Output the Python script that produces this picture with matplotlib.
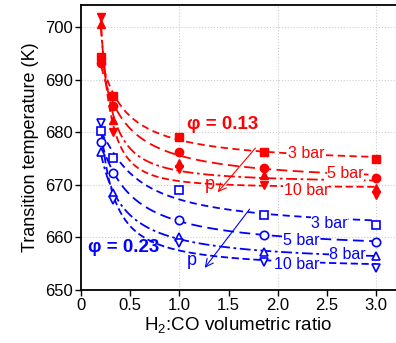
import numpy as np
import matplotlib
matplotlib.use("Agg")
import matplotlib.pyplot as plt

plt.rcParams['font.family'] = ['Liberation Sans', 'DejaVu Sans']
plt.rcParams['mathtext.fontset'] = 'custom'
plt.rcParams['mathtext.rm'] = 'Liberation Sans'
plt.rcParams['mathtext.it'] = 'Liberation Sans:italic'

# H2:CO ratios used in the experiments
ratio = [0.2, 0.33, 1.0, 1.86, 3.0]

# phi = 0.13 (red, filled markers)
red_3bar = [694.4, 687.0, 679.2, 676.2, 675.0]
red_5bar = [693.2, 685.1, 676.2, 673.3, 671.3]
red_8bar = [700.6, 682.3, 674.2, 671.8, 669.4]
red_10bar = [702.0, 680.0, 673.0, 670.0, 668.0]

# phi = 0.23 (blue, open markers)
blue_3bar = [680.2, 675.2, 669.1, 664.2, 662.3]
blue_5bar = [678.2, 672.3, 663.3, 660.4, 659.2]
blue_8bar = [676.2, 668.5, 660.0, 657.3, 656.4]
blue_10bar = [681.8, 667.2, 659.0, 655.4, 654.2]

pressures = ['3 bar', '5 bar', '8 bar', '10 bar']
markers = ['s', 'o', '^', 'v']
dash_styles = [(0, (4, 2.5)), (0, (6, 3)), (0, (6, 2, 1.5, 2)), (0, (4, 2))]

red = '#ff0000'
blue = '#0000ff'

fig = plt.figure(figsize=(3.96, 3.43), dpi=100)
ax = fig.add_axes([0.2045, 0.1545, 0.7955, 0.8305])

xs = np.linspace(0.2, 3.0, 200)


def trend(x, y):
    # smooth trend line, quadratic in 1/x
    c = np.polyfit(1.0 / np.asarray(x), y, 2)
    return np.polyval(c, 1.0 / xs)


red_sets = [red_3bar, red_5bar, red_8bar, red_10bar]
blue_sets = [blue_3bar, blue_5bar, blue_8bar, blue_10bar]

for ys, m, ls in zip(red_sets, markers, dash_styles):
    ax.plot(xs, trend(ratio, ys), color=red, linestyle=ls, lw=1.3, zorder=2)
    ax.plot(ratio, ys, linestyle='none', marker=m, ms=6, color=red,
            mfc=red, mec=red, zorder=4)

for ys, m, ls in zip(blue_sets, markers, dash_styles):
    ax.plot(xs, trend(ratio, ys), color=blue, linestyle=ls, lw=1.3, zorder=2)
    ax.plot(ratio, ys, linestyle='none', marker=m, ms=6, color=blue,
            mfc='white', mec=blue, mew=1.2, zorder=4)

# pressure labels sitting on the lines
lab_kw = dict(fontsize=11.5, va='center', ha='left', zorder=3,
              bbox=dict(facecolor='white', edgecolor='none', pad=0.2))
ax.text(2.10, 676.0, '3 bar', color=red, **lab_kw)
ax.text(2.50, 672.2, '5 bar', color=red, **lab_kw)
ax.text(2.06, 669.0, '10 bar', color=red, **lab_kw)
ax.text(2.34, 662.6, '3 bar', color=blue, **lab_kw)
ax.text(2.05, 659.5, '5 bar', color=blue, **lab_kw)
ax.text(2.52, 656.8, '8 bar', color=blue, **lab_kw)
ax.text(1.96, 654.8, '10 bar', color=blue, **lab_kw)

ax.text(1.08, 681.5, 'φ = 0.13', color=red, fontsize=13.5, fontweight='bold',
        ha='left', va='center', family=['Liberation Sans', 'DejaVu Sans'])
ax.text(0.07, 658.0, 'φ = 0.23', color=blue, fontsize=13.5, fontweight='bold',
        ha='left', va='center', family=['Liberation Sans', 'DejaVu Sans'])

# pressure arrows
ax.annotate('', xy=(1.37, 668.2), xytext=(1.79, 677.4),
            arrowprops=dict(arrowstyle='->', color=red, lw=0.8,
                            mutation_scale=14))
ax.text(1.31, 670.0, 'p', color=red, fontsize=13, ha='center', va='center')
ax.annotate('', xy=(1.24, 653.8), xytext=(1.73, 665.8),
            arrowprops=dict(arrowstyle='->', color=blue, lw=0.8,
                            mutation_scale=14))
ax.text(1.13, 655.7, 'p', color=blue, fontsize=13, ha='center', va='center')

ax.set_xlim(0, 3.2)
ax.set_ylim(650, 704.2)
ax.set_xticks(np.arange(0, 3.01, 0.5))
ax.set_xticklabels(['0', '0.5', '1.0', '1.5', '2.0', '2.5', '3.0'])
ax.set_yticks(np.arange(650, 701, 10))

for gx in [1.0, 2.0, 3.0]:
    ax.axvline(gx, color='#cccccc', lw=0.8, ls=':', zorder=0)
for gy in [660, 670, 680, 690, 700]:
    ax.axhline(gy, color='#cccccc', lw=0.8, ls=':', zorder=0)

ax.tick_params(direction='out', length=4, width=1, labelsize=12,
               colors='black', pad=2)
ax.spines['left'].set_linewidth(1.3)
ax.spines['bottom'].set_linewidth(1.3)
ax.spines['top'].set_linewidth(1.3)
ax.spines['right'].set_color('#cccccc')
ax.spines['right'].set_linewidth(0.8)

ax.set_xlabel('H$_2$:CO volumetric ratio', fontsize=13.5, labelpad=1)
ax.set_ylabel('Transition temperature (K)', fontsize=13, labelpad=4)

fig.savefig('out.png', dpi=100)
